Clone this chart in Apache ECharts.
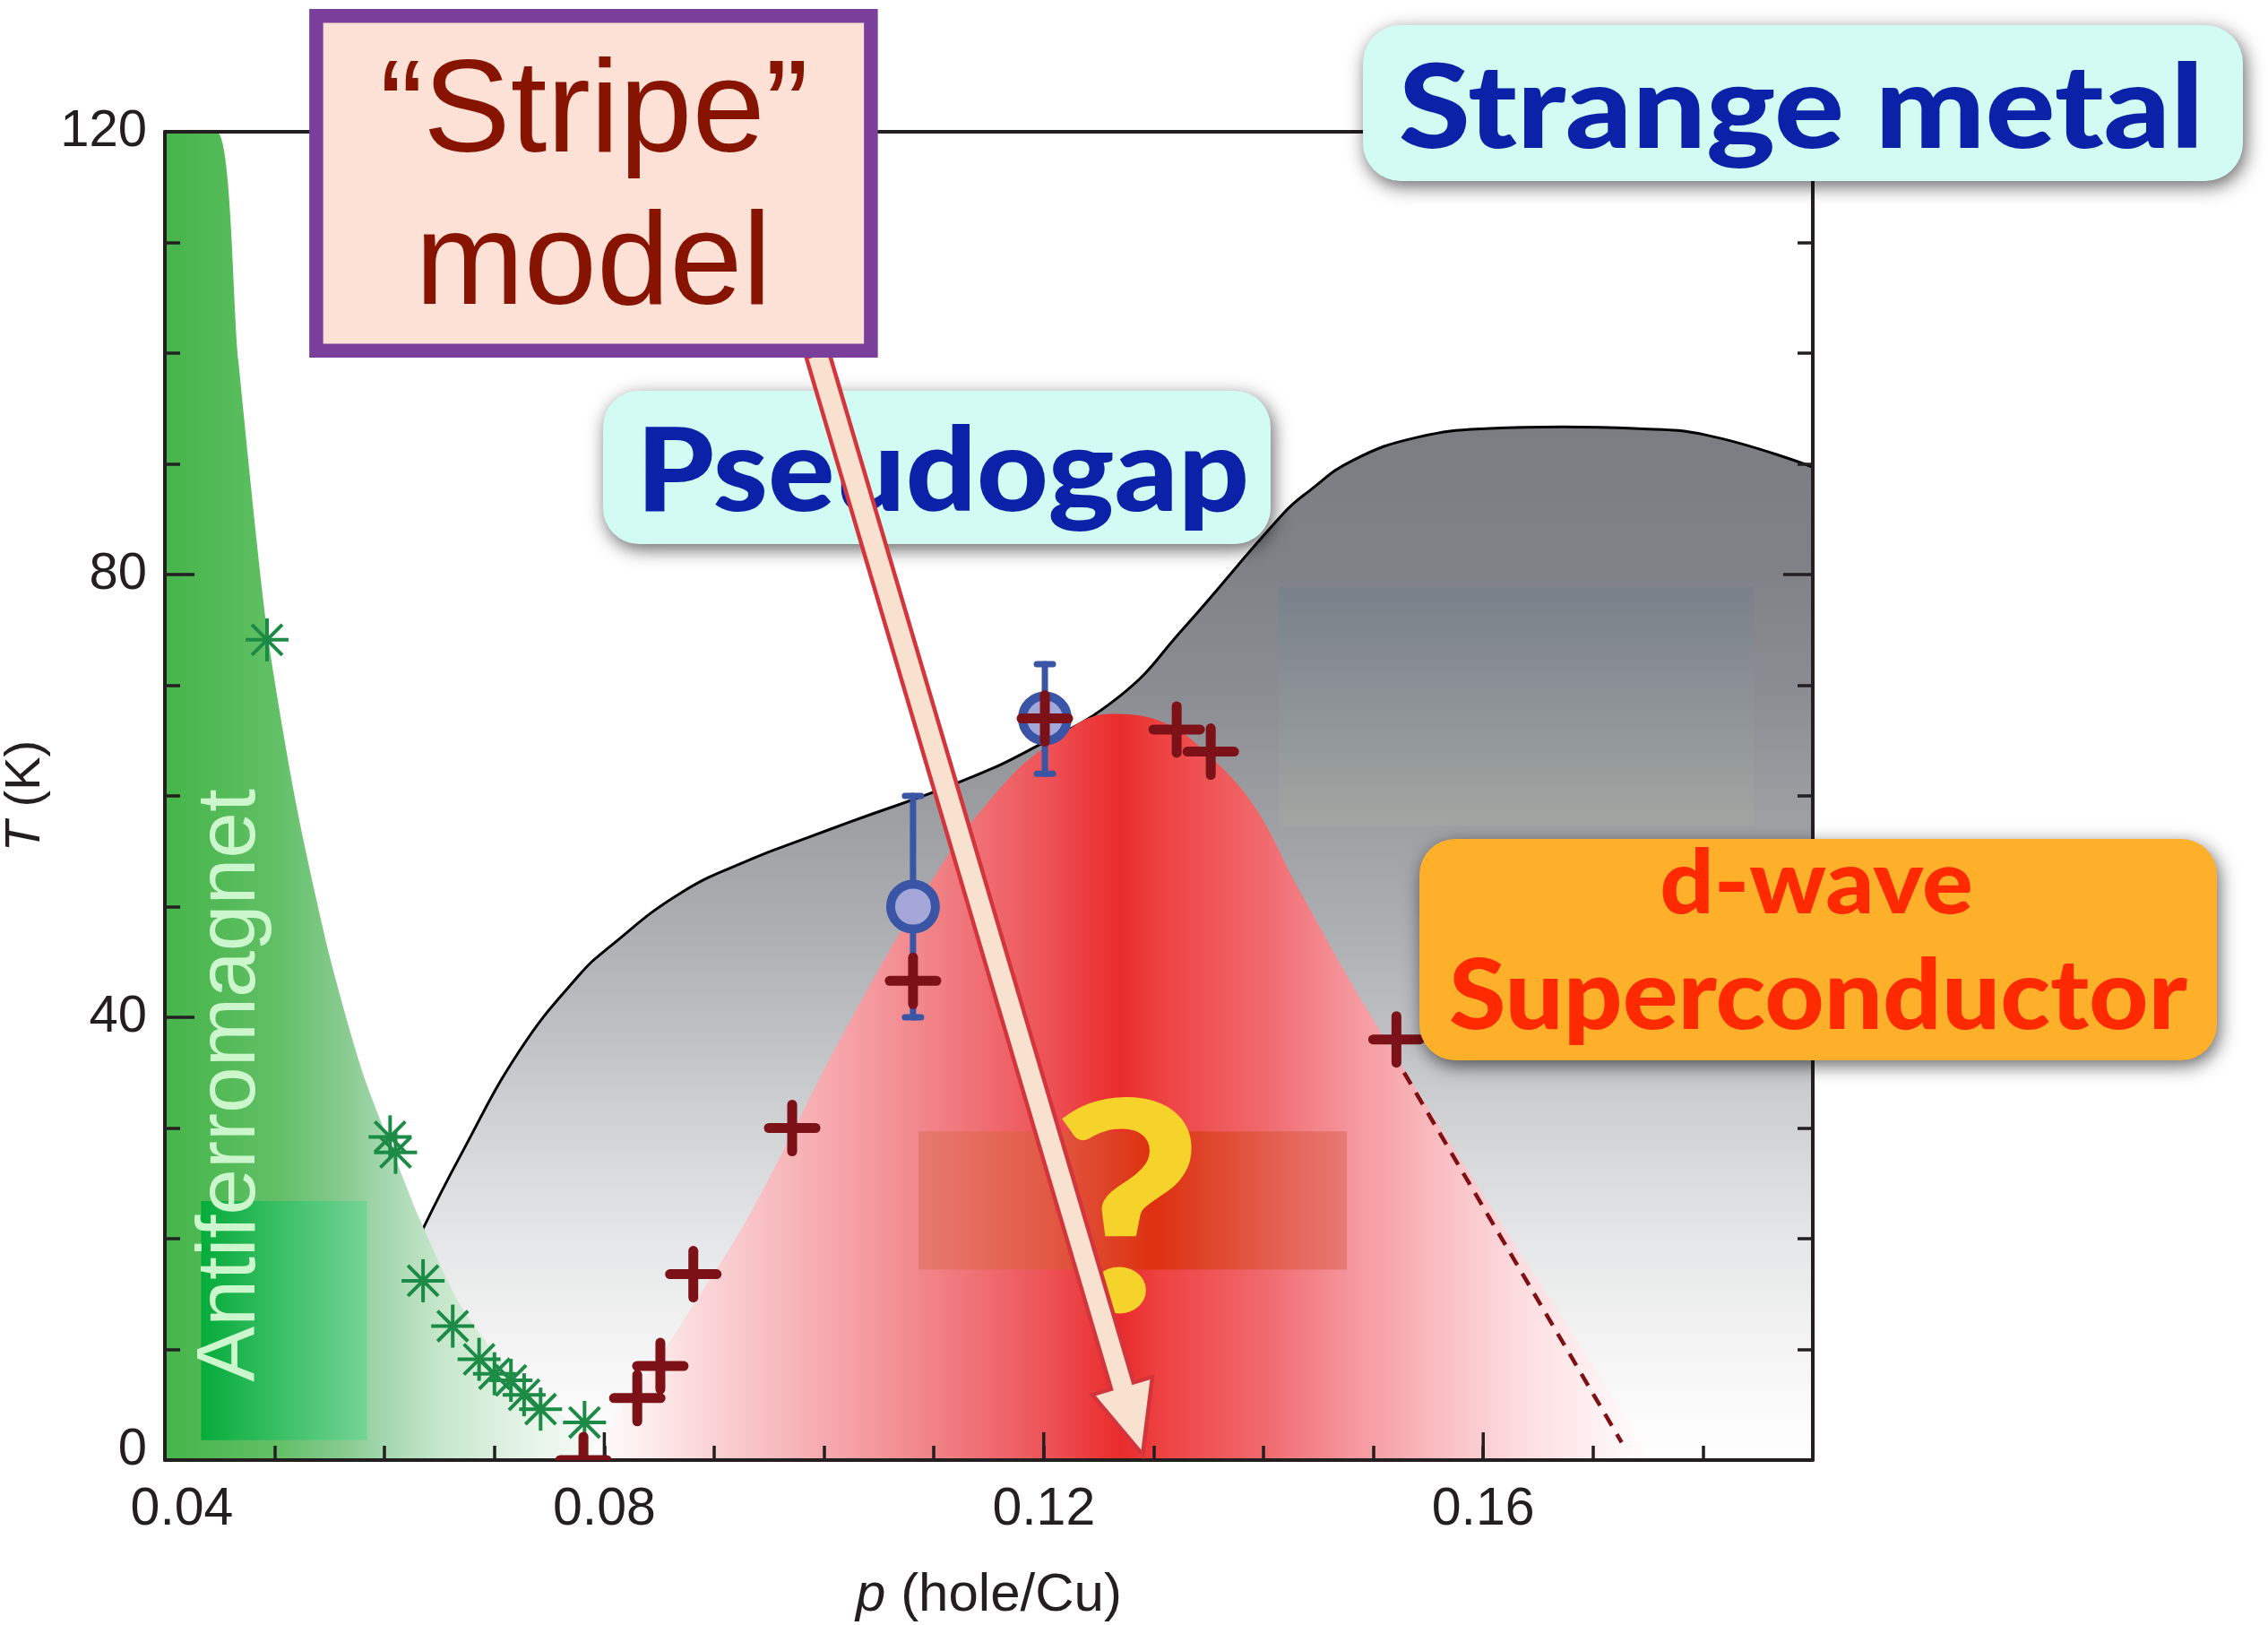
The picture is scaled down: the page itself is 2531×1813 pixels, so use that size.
<!DOCTYPE html>
<html><head><meta charset="utf-8">
<script src="https://cdn.jsdelivr.net/npm/echarts@6/dist/echarts.min.js"></script>
<style>html,body{margin:0;padding:0;background:#fff}#c{width:2531px;height:1813px}</style>
</head><body><div id="c"></div>
<script>
// ---------------- data ----------------
const xTickLabels = [0.04, 0.08, 0.12, 0.16];
const yTickLabels = [0, 40, 80, 120];
// antiferromagnet region boundary (p, T)
const afBoundary = [[0.04,120],[0.0447,120],[0.0467,99.2],[0.0493,75],[0.0520,59],[0.0550,45.5],[0.0580,35],[0.0609,27.5],[0.0631,22],[0.0669,14],[0.0723,7.0],[0.0777,2.9],[0.0815,0]];
// pseudogap boundary T*(p)
const pseudogapBoundary = [[0.0633,20.5],[0.0669,27.5],[0.0723,37.0],[0.0777,43.8],[0.0804,46.3],[0.0869,51.2],[0.0934,54.3],[0.0987,56.3],[0.1025,57.7],[0.1122,61.2],[0.1188,64.2],[0.1269,69.0],[0.1326,75.0],[0.1418,85.5],[0.1441,87.5],[0.1481,90.3],[0.154,92.4],[0.1606,93.2],[0.1672,93.35],[0.1737,93.2],[0.1803,92.6],[0.19,89.7]];
// superconducting dome Tc(p)
const scDome = [[0.0781,0],[0.0841,8.0],[0.0881,14.0],[0.0934,22.5],[0.1020,39],[0.1106,53.6],[0.1155,60.1],[0.1201,64.4],[0.1261,67.4],[0.131,66.6],[0.1351,63.6],[0.1392,59],[0.1432,51.6],[0.1506,38.8],[0.1729,4],[0.1755,0]];
// Neel temperature points
const neelPoints = [[0.0493,74.1],[0.0605,29.2],[0.0610,27.8],[0.0635,16.2],[0.0662,12.1],[0.0686,9.1],[0.0700,7.8],[0.0715,7.2],[0.0727,5.9],[0.0742,4.6],[0.0782,3.4]];
// Tc points
const tcPoints = [[0.0781,0],[0.0830,5.6],[0.0851,8.5],[0.0881,16.8],[0.0971,30.0],[0.1081,43.3],[0.1201,67.0],[0.1321,66.0],[0.1352,64.0],[0.1521,38.0]];
// muon points: p, T, low, high
const muonPoints = [[0.1081,50,40,60],[0.1201,67,62,71.9]];
// dashed Tc extrapolation
const tcExtrapolation = [[0.1528,35],[0.1726,1.6]];
// shaded boxes: p0, T0, p1, T1
const greenBox = [0.0433,23.4,0.0584,1.8];
const redBox = [0.1086,29.7,0.1476,17.2];
const greyBox = [0.1414,78.9,0.1846,57.3];
// arrow from "Stripe" model box (p, T)
const stripeArrow = [[0.0994,99.9],[0.1290,0.5]];

// ---------------- chart ----------------
const chart = echarts.init(document.getElementById('c'), null, {renderer:'canvas', width:2531, height:1813});
const FONT = '"Liberation Sans", Arial, Helvetica, sans-serif';
const GILL = 'Lato, "Open Sans", sans-serif';
const AXC = '#231f20';
function lg(x0,y0,x1,y1,stops){return new echarts.graphic.LinearGradient(x0,y0,x1,y1,stops.map(s=>({offset:s[0],color:s[1]})));}
function isTick(v,t){return Math.abs(v-t)<1e-6;}

const axisLineStyle = {color:AXC, width:4};
const tickStyle = {color:AXC, width:3.5};

const option = {
  animation:false,
  backgroundColor:'#ffffff',
  grid:{left:184, right:508, top:147, bottom:184, containLabel:false, outerBoundsMode:'none'},
  xAxis:[
    {type:'value', min:0.04, max:0.19, interval:0.01, position:'bottom', z:10,
     axisLine:{show:true, onZero:false, lineStyle:axisLineStyle},
     axisTick:{show:true, inside:true, length:16, lineStyle:tickStyle},
     axisLabel:{show:true, margin:26, fontSize:59, fontFamily:FONT, color:AXC,
       formatter:function(v){
         for(let i=0;i<xTickLabels.length;i++){
           if(isTick(v,xTickLabels[i])) return i===0 ? '{a|'+xTickLabels[i].toFixed(2)+'}' : xTickLabels[i].toFixed(2);
         }
         return '';
       },
       rich:{a:{fontSize:59, fontFamily:FONT, color:AXC, padding:[0,0,0,38]}}},
     splitLine:{show:false},
     name:'{i|p} (hole/Cu)', nameLocation:'middle', nameGap:121,
     nameTextStyle:{fontSize:60, fontFamily:FONT, color:AXC, rich:{i:{fontSize:60, fontFamily:FONT, fontStyle:'italic', color:AXC}}}},
    {type:'value', min:0.04, max:0.19, position:'top', z:10,
     axisLine:{show:true, onZero:false, lineStyle:axisLineStyle},
     axisTick:{show:false}, axisLabel:{show:false}, splitLine:{show:false}}
  ],
  yAxis:[
    {type:'value', min:0, max:120, interval:40, position:'left', z:10,
     axisLine:{show:true, onZero:false, lineStyle:axisLineStyle},
     axisTick:{show:true, inside:true, length:33, lineStyle:tickStyle},
     minorTick:{show:true, splitNumber:4, length:17, lineStyle:tickStyle},
     axisLabel:{show:true, margin:20, fontSize:58, fontFamily:FONT, color:AXC,
       formatter:function(v){ return v===yTickLabels[0] ? '{z|'+v+'}' : String(v); },
       rich:{z:{fontSize:58, fontFamily:FONT, color:AXC, padding:[0,0,22,0]}}},
     splitLine:{show:false}, minorSplitLine:{show:false},
     name:'{i|T} (K)', nameLocation:'middle', nameGap:120,
     nameTextStyle:{fontSize:56, fontFamily:FONT, color:AXC, rich:{i:{fontSize:56, fontFamily:FONT, fontStyle:'italic', color:AXC}}}},
    {type:'value', min:0, max:120, interval:40, position:'right', z:10,
     axisLine:{show:true, onZero:false, lineStyle:axisLineStyle},
     axisTick:{show:true, inside:true, length:33, lineStyle:tickStyle},
     minorTick:{show:true, splitNumber:4, length:17, lineStyle:tickStyle},
     axisLabel:{show:false}, splitLine:{show:false}, minorSplitLine:{show:false}}
  ],
  series:[
    {name:'pseudogap', type:'line', z:1, data:pseudogapBoundary, smooth:0.45, symbol:'none', silent:true,
     lineStyle:{color:'#000000', width:3},
     areaStyle:{opacity:1, color:lg(0,0,0,1,[[0,'#7c7d82'],[0.14,'#818287'],[0.25,'#8b8c91'],[0.357,'#9a9ca0'],[0.464,'#a9abae'],[0.571,'#bbbdc0'],[0.678,'#d2d3d5'],[0.786,'#e5e6e7'],[0.893,'#f4f4f4'],[1,'#ffffff']])}},
    {name:'antiferromagnet', type:'line', z:2, data:afBoundary, smooth:0.25, symbol:'none', silent:true,
     lineStyle:{width:0},
     areaStyle:{opacity:1, color:lg(0,0,1,0,[[0,'#46b54a'],[0.1,'#50b954'],[0.25,'#62c067'],[0.4,'#8acc92'],[0.47,'#a1d6ab'],[0.6,'#c5e6cb'],[0.73,'#dcf0df'],[0.86,'#edf7ef'],[1,'#fbfdfb']])}},
    {name:'superconductor', type:'line', z:2, data:scDome, smooth:0.4, symbol:'none', silent:true,
     lineStyle:{width:0},
     areaStyle:{opacity:1, color:lg(0,0,1,0,[[0,'#ffffff'],[0.049,'#fdf0f0'],[0.146,'#f9c8cb'],[0.244,'#f6a3a8'],[0.342,'#f07c80'],[0.4375,'#ed5055'],[0.4875,'#ec3333'],[0.502,'#e92b2b'],[0.536,'#ee4040'],[0.633,'#f0686c'],[0.715,'#f5959c'],[0.796,'#f9bcc0'],[0.877,'#fcdde0'],[0.958,'#fef3f4'],[1,'#ffffff']])}},
    {name:'extrapolation', type:'line', z:11, data:tcExtrapolation, symbol:'none', silent:true,
     lineStyle:{color:'#7e1014', width:4.5, type:[15,11]},
     markArea:{z:5, silent:true, label:{show:false}, data:[
       [{xAxis:greenBox[0], yAxis:greenBox[1], itemStyle:{color:lg(0,0,1,0,[[0,'#05ac3a'],[1,'#75d495']])}},{xAxis:greenBox[2], yAxis:greenBox[3]}],
       [{xAxis:redBox[0], yAxis:redBox[1], itemStyle:{color:lg(0,0,1,0,[[0,'#e67a70'],[0.3,'#e25a44'],[0.55,'#dd300f'],[0.8,'#e35a48'],[1,'#e87a76']])}},{xAxis:redBox[2], yAxis:redBox[3]}],
       [{xAxis:greyBox[0], yAxis:greyBox[1], itemStyle:{color:lg(0,0,0,1,[[0,'#79808a'],[1,'#a2a6a2']])}},{xAxis:greyBox[2], yAxis:greyBox[3]}]
     ]}},
    {name:'majorTicks', type:'custom', z:10, silent:true, data:xTickLabels.map(v=>[v,0]), encode:{x:0,y:1},
     renderItem:function(params, api){
       const p = api.coord([api.value(0), 0]);
       return {type:'line', shape:{x1:p[0], y1:p[1], x2:p[0], y2:p[1]-31}, style:{stroke:AXC, lineWidth:3.5}};
     }},
    {name:'neel', type:'custom', z:12, silent:true, clip:true, data:neelPoints, encode:{x:0,y:1},
     renderItem:function(params, api){
       const c = api.coord([api.value(0), api.value(1)]);
       const r = 24, d = r*0.7071;
       const st = {stroke:'#1b8b45', lineWidth:4};
       return {type:'group', children:[
         {type:'line', shape:{x1:c[0]-r,y1:c[1],x2:c[0]+r,y2:c[1]}, style:st},
         {type:'line', shape:{x1:c[0],y1:c[1]-r,x2:c[0],y2:c[1]+r}, style:st},
         {type:'line', shape:{x1:c[0]-d,y1:c[1]-d,x2:c[0]+d,y2:c[1]+d}, style:st},
         {type:'line', shape:{x1:c[0]-d,y1:c[1]+d,x2:c[0]+d,y2:c[1]-d}, style:st}
       ]};
     }},
    {name:'errorbars', type:'custom', z:13, silent:true, data:muonPoints, encode:{x:0,y:1},
     renderItem:function(params, api){
       const x = api.value(0);
       const top = api.coord([x, api.value(3)]), bot = api.coord([x, api.value(2)]);
       const cap = 9;
       const st = {stroke:'#3a55a6', lineWidth:7, lineCap:'round'};
       return {type:'group', children:[
         {type:'line', shape:{x1:top[0],y1:top[1],x2:bot[0],y2:bot[1]}, style:st},
         {type:'line', shape:{x1:top[0]-cap,y1:top[1],x2:top[0]+cap,y2:top[1]}, style:st},
         {type:'line', shape:{x1:bot[0]-cap,y1:bot[1],x2:bot[0]+cap,y2:bot[1]}, style:st}
       ]};
     }},
    {name:'muon', type:'custom', z:14, silent:true, data:muonPoints, encode:{x:0,y:1},
     renderItem:function(params, api){
       const c = api.coord([api.value(0), api.value(1)]);
       return {type:'circle', shape:{cx:c[0], cy:c[1], r:25}, style:{fill:'#a4a7d8', stroke:'#3a55a6', lineWidth:10}};
     }},
    {name:'tc', type:'custom', z:15, silent:true, clip:true, data:tcPoints, encode:{x:0,y:1},
     renderItem:function(params, api){
       const c = api.coord([api.value(0), api.value(1)]);
       const r = 26;
       const st = {stroke:'#7c1117', lineWidth:11, lineCap:'round'};
       return {type:'group', children:[
         {type:'line', shape:{x1:c[0]-r,y1:c[1],x2:c[0]+r,y2:c[1]}, style:st},
         {type:'line', shape:{x1:c[0],y1:c[1]-r,x2:c[0],y2:c[1]+r}, style:st}
       ]};
     }}
  ]
};
chart.setOption(option);

// ---------------- annotations ----------------
const S = chart.convertToPixel({gridIndex:0}, stripeArrow[0]);
const E = chart.convertToPixel({gridIndex:0}, stripeArrow[1]);
const dx = E[0]-S[0], dy = E[1]-S[1], len = Math.sqrt(dx*dx+dy*dy);
const ux = dx/len, uy = dy/len, nx = -uy, ny = ux;
const w = 13, hw = 35, hl = 80;
const B = [E[0]-ux*hl, E[1]-uy*hl];
const arrowPts = [
  [S[0]+nx*w, S[1]+ny*w],[B[0]+nx*w, B[1]+ny*w],[B[0]+nx*hw, B[1]+ny*hw],[E[0],E[1]],
  [B[0]-nx*hw, B[1]-ny*hw],[B[0]-nx*w, B[1]-ny*w],[S[0]-nx*w, S[1]-ny*w]
];
const shadow = {shadowBlur:20, shadowColor:'rgba(0,0,0,0.6)', shadowOffsetX:3, shadowOffsetY:6};
function txt(text, x, y, size, weight, family, fill, z, rot, sx){
  return {type:'text', x:x, y:y, z:z, rotation:rot||0, scaleX:sx||1, silent:true,
    style:{text:text, fontSize:size, fontWeight:weight, fontFamily:family, fill:fill,
      align:'center', verticalAlign:'middle', textAlign:'center', textVerticalAlign:'middle'}};
}
chart.setOption({graphic:{elements:[
  txt('Antiferromagnet', 258, 1211, 93, 'normal', FONT, '#ccf7cc', 40, Math.PI/2),
  txt('?', 1258, 1358, 326, 900, GILL, '#f6d32a', 40, 0, 1.12),
  {type:'rect', z:50, silent:true, shape:{x:673, y:436, width:745, height:171, r:40},
   style:Object.assign({fill:'#d2fbf3'}, shadow)},
  txt('Pseudogap', 1052, 528, 130, 900, GILL, '#0a21a8', 51, 0, 1.07),
  {type:'polygon', z:60, silent:true, shape:{points:arrowPts},
   style:{fill:'#f9e1d0', stroke:'#d3353d', lineWidth:4.5, lineJoin:'miter'}},
  {type:'rect', z:70, silent:true, shape:{x:352.9, y:17.8, width:619, height:373.5},
   style:{fill:'#fde0d6', stroke:'#7a3f9b', lineWidth:15.5}},
  txt('\u201CStripe\u201D', 663, 129, 146, 'normal', FONT, '#861400', 71),
  txt('model', 662, 299, 146, 'normal', FONT, '#861400', 71),
  {type:'rect', z:70, silent:true, shape:{x:1521, y:28, width:982, height:174, r:42},
   style:Object.assign({fill:'#d2fbf3'}, shadow)},
  txt('Strange metal', 2010, 123, 130, 900, GILL, '#0a21a8', 71, 0, 1.12),
  {type:'rect', z:70, silent:true, shape:{x:1584, y:936, width:890, height:247, r:40},
   style:Object.assign({fill:'#ffb02a'}, shadow)},
  txt('d-wave', 2027, 987, 99, 900, GILL, '#ff2a00', 71, 0, 1.07),
  txt('Superconductor', 2029, 1113, 108, 900, GILL, '#ff2a00', 71, 0, 1.067)
]}});
</script>
</body></html>
